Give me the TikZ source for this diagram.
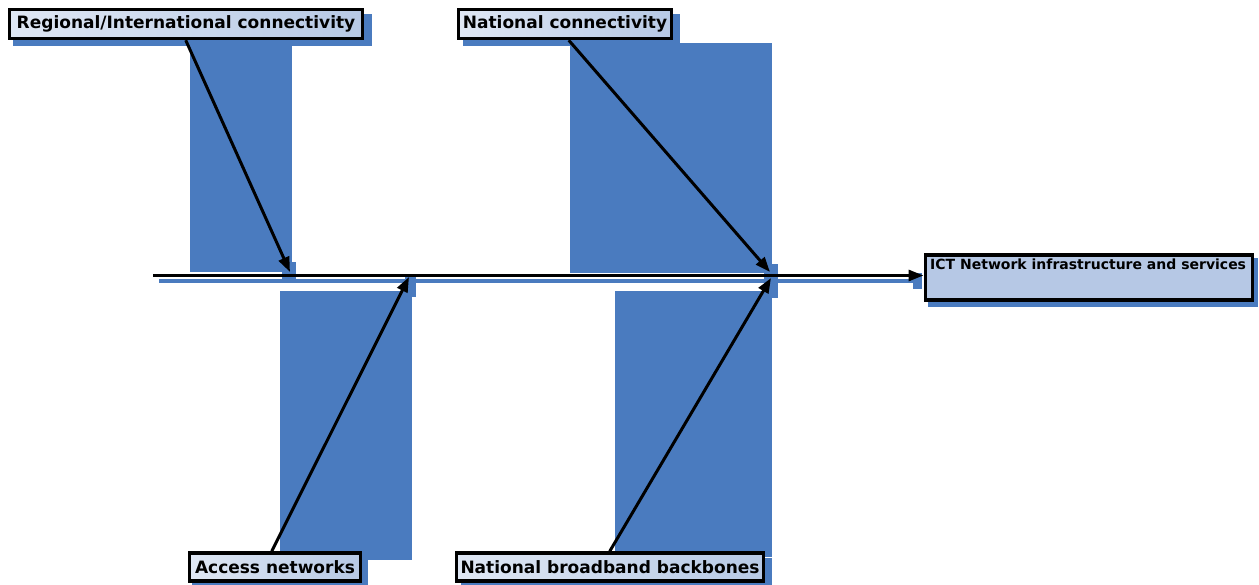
\documentclass[tikz,border=0pt]{standalone}
\usepackage{fontspec}
\setmainfont{DejaVu Sans}
\usetikzlibrary{arrows.meta}
\definecolor{sblue}{HTML}{4A7BBF}
\definecolor{lboxL}{HTML}{DFE7F4}
\definecolor{lboxR}{HTML}{B7C9E5}
\definecolor{ictfill}{HTML}{B6C8E5}
\begin{document}
\begin{tikzpicture}[x=1pt,y=-1pt,
  blk/.style={fill=sblue, draw=none},
  lbl/.style={draw=black, line width=3.5pt, left color=lboxL, right color=lboxR, inner sep=0pt,
    font=\bfseries\fontsize{17}{20}\selectfont, text=black},
  conn/.style={line width=3pt, -{Triangle[length=15pt,width=11pt]}},
]
\useasboundingbox (0,0) rectangle (1259,585);
% blue blocks
\fill[blk] (190,46) rectangle (292,272);
\fill[blk] (282,262) rectangle (296,281);
\fill[blk] (280,291) rectangle (412,560);
\fill[blk] (405,277) rectangle (416,297);
\fill[blk] (570,43) rectangle (772,273);
\fill[blk] (615,291) rectangle (772,557);
\fill[blk] (764,264) rectangle (778,298);
% spine shadow
\fill[blk] (159,279.5) rectangle (915,283);
% label shadows
\fill[blk] (13,14) rectangle (372,46);
\fill[blk] (463,14) rectangle (680,46);
\fill[blk] (192,558) rectangle (368,585);
\fill[blk] (461,558) rectangle (772,585);
\fill[blk] (928,258) rectangle (1258,307);
\fill[blk] (913,273) rectangle (922,289);
% nodes
\node[draw=black, line width=3.5pt, fill=ictfill, minimum width=327pt, minimum height=45pt,
  inner sep=0pt, anchor=north west] (ict) at (923.5,253.5) {};
\node[anchor=base west, inner sep=0pt, font=\bfseries\fontsize{14}{16}\selectfont] (ictt) at (930,269.5)
  {ICT Network infrastructure and services};
\node[lbl, minimum width=353pt, minimum height=29pt] (reg) at (186,24) {Regional/International connectivity};
\node[lbl, minimum width=213pt, minimum height=29pt] (nat) at (565,24) {National connectivity};
\node[lbl, minimum width=171pt, minimum height=28pt] (acc) at (275,567) {Access networks};
\node[lbl, minimum width=307pt, minimum height=28pt] (nbb) at (610,567) {National broadband backbones};
% spine
\coordinate (sp) at (153,275.5);
\draw[conn] (sp) -- (ict.west |- sp);
% arrow tips
\coordinate (t1) at (290,272);
\coordinate (t2) at (409,277);
\coordinate (t3) at (770,272);
\coordinate (t4) at (771,278);
\draw[conn] ([xshift=178pt]reg.south west) -- (t1);
\draw[conn] ([xshift=112pt]nat.south west) -- (t3);
\draw[conn] ([xshift=84pt]acc.north west) -- (t2);
\draw[conn] ([xshift=155pt]nbb.north west) -- (t4);
\end{tikzpicture}
\end{document}
